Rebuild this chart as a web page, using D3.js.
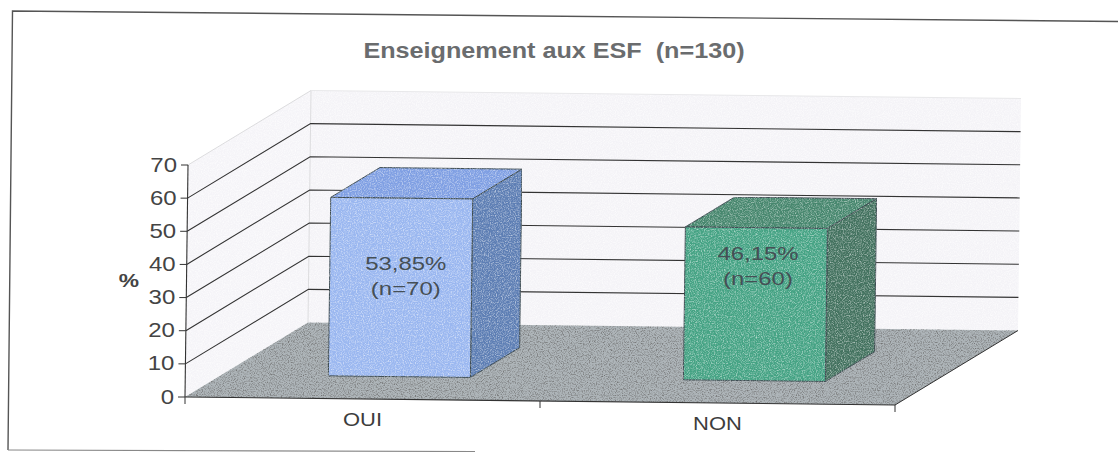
<!DOCTYPE html>
<html><head><meta charset="utf-8">
<script src="https://cdn.jsdelivr.net/npm/d3@7"></script>
<style>html,body{margin:0;padding:0;background:#fff}svg{display:block}text{font-family:"Liberation Sans",Arial,sans-serif}</style>
</head><body><svg id="c" width="1118" height="452"></svg>
<script>
const categories = ["OUI", "NON"];
const percentages = [53.85, 46.15];
const counts = [70, 60];
const barLabels = ["53,85%", "46,15%"];
const yTicks = [0, 10, 20, 30, 40, 50, 60, 70];
const frontColors = ["#9ab7f0", "#45a384"];
const topColors = ["#7f9fe3", "#47876e"];
const sideColors = ["#5d7eb4", "#43725f"];
const titleText = "Enseignement aux ESF  (n=130)";

const W = 1118, H = 452;
const svg = d3.select("#c").attr("viewBox", [0, 0, W, H]);
const defs = svg.append("defs");
function grainFilter(id, rgb, k, b, seed) {
  const f = defs.append("filter").attr("id", id).attr("x", 0).attr("y", 0).attr("width", 1).attr("height", 1)
    .attr("color-interpolation-filters", "sRGB");
  f.append("feTurbulence").attr("type", "fractalNoise").attr("baseFrequency", 0.85).attr("numOctaves", 2).attr("seed", seed).attr("result", "n");
  f.append("feColorMatrix").attr("in", "n").attr("type", "matrix")
    .attr("values", `0 0 0 0 ${rgb}  0 0 0 0 ${rgb}  0 0 0 0 ${rgb}  ${k} 0 0 0 ${b}`).attr("result", "g");
  f.append("feComposite").attr("in", "g").attr("in2", "SourceAlpha").attr("operator", "in").attr("result", "gg");
  f.append("feMerge").selectAll("feMergeNode").data(["SourceGraphic", "gg"]).join("feMergeNode").attr("in", d => d);
}
grainFilter("grainLight", 1, 1.3, -0.55, 4);
grainFilter("grainWall", 1, 1.4, -0.5, 9);
grainFilter("grainFloor", 0.42, 2.2, -0.98, 7);

// Oblique projection: unit cube coordinates to screen
const origin = [185, 397], xAxisVec = [710, 8], yAxisVec = [3, -232], depthVec = [123, -74.5];
const yScale = d3.scaleLinear().domain([0, 70]).range([0, 1]);
const band = d3.scaleBand().domain(categories).range([0, 1]);
const P = (u, v, d) => [
  origin[0] + u * xAxisVec[0] + v * yAxisVec[0] + d * depthVec[0],
  origin[1] + u * xAxisVec[1] + v * yAxisVec[1] + d * depthVec[1]];
const line = pts => "M" + pts.map(p => p.join(",")).join("L");
const poly = pts => line(pts) + "Z";
// The scan is stretched horizontally, so text is widened about its anchor
function wideText(parent, x, y, sx, size, fill, str, anchor, weight) {
  return parent.append("text").attr("transform", `translate(${x},${y}) scale(${sx},1)`)
    .attr("text-anchor", anchor || "middle").attr("font-size", size).attr("fill", fill)
    .attr("font-weight", weight || "normal").style("white-space", "pre").text(str);
}

const plot = svg.append("g");
const vTop = yScale(70);
plot.append("path").attr("d", poly([P(0,0,1), P(1,0,1), P(1,vTop,1), P(0,vTop,1)])).attr("fill", "#f4f3f7").attr("filter", "url(#grainWall)");
plot.append("path").attr("d", poly([P(0,0,0), P(0,0,1), P(0,vTop,1), P(0,vTop,0)])).attr("fill", "#f5f4f8").attr("filter", "url(#grainWall)");
plot.append("path").attr("d", line([P(0,0,1), P(0,vTop,1), P(0,vTop,0)])).attr("fill", "none").attr("stroke", "#dcdcde").attr("stroke-width", 1);
plot.append("path").attr("d", line([P(0,vTop,1), P(1,vTop,1)])).attr("fill", "none").attr("stroke", "#e8e8ea").attr("stroke-width", 1);
plot.append("path").attr("d", poly([P(0,0,0), P(1,0,0), P(1,0,1), P(0,0,1)])).attr("fill", "#aeb5b9").attr("filter", "url(#grainFloor)");
plot.selectAll("path.grid").data(yTicks.slice(1, -1)).join("path").attr("class", "grid")
  .attr("d", t => line([P(0,yScale(t),0), P(0,yScale(t),1), P(1,yScale(t),1)]))
  .attr("fill", "none").attr("stroke", "#333").attr("stroke-width", 1.1);
plot.append("path").attr("d", line([P(1,0,1), P(1,0,0)])).attr("fill", "none").attr("stroke", "#333").attr("stroke-width", 1);

// bars: 40% of the band wide, 40% of the depth deep
const barRatio = 0.4, d0 = 0.3, d1 = 0.7;
const labelLevels = [32.1, 36.5];
const bars = plot.selectAll("g.bar").data(categories).join("g").attr("class", "bar");
bars.each(function(c, i) {
  const g = d3.select(this), v = yScale(percentages[i]);
  const mid = band(c) + band.bandwidth() / 2, hw = band.bandwidth() * barRatio / 2;
  const u0 = mid - hw, u1 = mid + hw;
  const faces = [
    [[P(u0,v,d0), P(u1,v,d0), P(u1,v,d1), P(u0,v,d1)], topColors[i]],
    [[P(u1,0,d0), P(u1,0,d1), P(u1,v,d1), P(u1,v,d0)], sideColors[i]],
    [[P(u0,0,d0), P(u1,0,d0), P(u1,v,d0), P(u0,v,d0)], frontColors[i]]];
  faces.forEach(([pts, col]) => g.append("path").attr("d", poly(pts)).attr("fill", col)
    .attr("stroke", "#3c4a50").attr("stroke-width", 1).attr("stroke-linejoin", "round").attr("filter", "url(#grainLight)"));
  const a = P(mid, yScale(labelLevels[i]), d0);
  const lx = a[0] + (i === 0 ? 5 : 2);
  wideText(g, lx, a[1], 1.26, 19, "#454f55", barLabels[i]);
  wideText(g, lx, a[1] + 25, 1.26, 19, "#454f55", "(n=" + counts[i] + ")");
});

// axes
const axisColor = "#333";
plot.append("path").attr("d", line([P(0,0,0), P(0,vTop,0)])).attr("stroke", axisColor).attr("fill", "none").attr("stroke-width", 1.1);
plot.append("path").attr("d", line([P(0,0,0), P(1,0,0)])).attr("stroke", axisColor).attr("fill", "none").attr("stroke-width", 1.1);
const yt = plot.selectAll("g.yt").data(yTicks).join("g").attr("class", "yt");
yt.append("path").attr("d", t => { const p = P(0, yScale(t), 0); return `M${p[0]-7},${p[1]}L${p[0]},${p[1]}`; }).attr("stroke", axisColor);
yt.each(function(t) { const p = P(0, yScale(t), 0);
  wideText(d3.select(this), p[0] - 11, p[1] + 6.5, 1.2, 20, "#444", String(t), "end"); });
[0, 0.5, 1].forEach(u => { const p = P(u, 0, 0);
  plot.append("path").attr("d", `M${p[0]},${p[1]}L${p[0]},${p[1]+7}`).attr("stroke", axisColor); });
categories.forEach(c => { const p = P(band(c) + band.bandwidth() / 2, 0, 0);
  wideText(plot, p[0], p[1] + 27, 1.22, 18, "#3c3c3c", c); });

wideText(svg, 129, 287, 1.2, 19, "#444", "%", "middle", "bold");
wideText(svg, 554, 58, 1.145, 22, "#6a6c6e", titleText, "middle", "bold");

// scanned frame
svg.append("path").attr("d", line([[1118,21.5],[12.5,11],[8,450]])).attr("fill", "none").attr("stroke", "#555").attr("stroke-width", 1.4);
svg.append("path").attr("d", line([[8,450],[475,451.5]])).attr("fill", "none").attr("stroke", "#888").attr("stroke-width", 1.2);
</script></body></html>
